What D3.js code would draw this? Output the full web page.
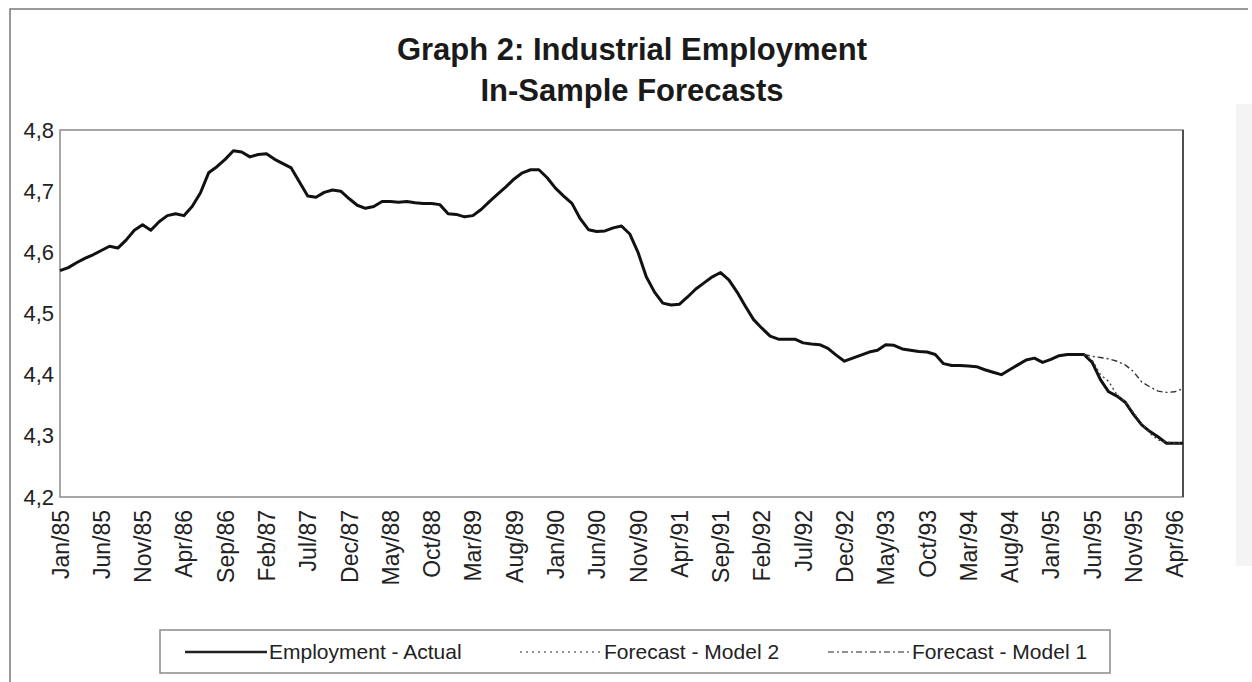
<!DOCTYPE html>
<html>
<head>
<meta charset="utf-8">
<script src="https://cdn.jsdelivr.net/npm/d3@7"></script>
<style>
  body { margin: 0; background: #fff; }
  svg { display: block; font-family: Arial, "Liberation Sans", sans-serif; }
</style>
</head>
<body>
<div id="chart-area"></div>
<script>
// monthly data, Jan/85 .. May/96
const monthNames = ["Jan", "Feb", "Mar", "Apr", "May", "Jun", "Jul", "Aug", "Sep", "Oct", "Nov", "Dec"];
const months = [];
for (let y = 85; y <= 96; y++) {
  monthNames.forEach((m, i) => {
    if (y === 96 && i > 4) return;
    months.push(m + "/" + y);
  });
}

const tickLabels = ["Jan/85", "Jun/85", "Nov/85", "Apr/86", "Sep/86", "Feb/87", "Jul/87",
  "Dec/87", "May/88", "Oct/88", "Mar/89", "Aug/89", "Jan/90", "Jun/90", "Nov/90", "Apr/91",
  "Sep/91", "Feb/92", "Jul/92", "Dec/92", "May/93", "Oct/93", "Mar/94", "Aug/94", "Jan/95",
  "Jun/95", "Nov/95", "Apr/96"];

const yTicks = [4.2, 4.3, 4.4, 4.5, 4.6, 4.7, 4.8];

// Employment - Actual
const actual = [
  4.570, 4.575, 4.583, 4.590, 4.596, 4.603, 4.610, 4.607, 4.620, 4.636, 4.645, 4.636, // 85
  4.650, 4.660, 4.663, 4.660, 4.675, 4.697, 4.730, 4.740, 4.752, 4.766, 4.764, 4.756, // 86
  4.760, 4.761, 4.752, 4.745, 4.738, 4.715, 4.692, 4.690, 4.698, 4.702, 4.700, 4.688, // 87
  4.677, 4.672, 4.675, 4.683, 4.683, 4.682, 4.683, 4.681, 4.680, 4.680, 4.678, 4.663, // 88
  4.662, 4.658, 4.660, 4.670, 4.683, 4.695, 4.707, 4.720, 4.730, 4.735, 4.735, 4.722, // 89
  4.705, 4.692, 4.680, 4.655, 4.637, 4.634, 4.635, 4.640, 4.643, 4.630, 4.600, 4.560, // 90
  4.535, 4.517, 4.514, 4.515, 4.527, 4.540, 4.550, 4.560, 4.567, 4.555, 4.535, 4.512, // 91
  4.490, 4.476, 4.463, 4.458, 4.458, 4.458, 4.452, 4.450, 4.449, 4.443, 4.432, 4.422, // 92
  4.427, 4.432, 4.437, 4.440, 4.449, 4.448, 4.442, 4.440, 4.438, 4.437, 4.433, 4.418, // 93
  4.415, 4.415, 4.414, 4.413, 4.408, 4.404, 4.400, 4.408, 4.416, 4.424, 4.427, 4.420, // 94
  4.425, 4.431, 4.433, 4.433, 4.433, 4.420, 4.392, 4.372, 4.365, 4.355, 4.335, 4.318, // 95
  4.307, 4.298, 4.288, 4.288, 4.288                                                    // 96
];

// forecasts, May/95 .. May/96 (index 124 on)
const forecastStart = 124;
const model2 = [4.433, 4.424, 4.400, 4.389, 4.367, 4.356, 4.338, 4.320, 4.304, 4.293, 4.290, 4.288, 4.289];
const model1 = [4.433, 4.430, 4.428, 4.426, 4.422, 4.416, 4.405, 4.388, 4.380, 4.373, 4.371, 4.372, 4.377];

const chartWidth = 1252;
const chartHeight = 682;
const margin = {top: 130, right: 69, bottom: 185, left: 60};
const width = chartWidth - margin.left - margin.right;
const height = chartHeight - margin.top - margin.bottom;

let svg = d3.select("#chart-area").append("svg")
  .attr("width", chartWidth)
  .attr("height", chartHeight);

// outer frame (scanned page look)
svg.append("rect")
  .attr("x", 1236).attr("y", 104)
  .attr("width", 16).attr("height", 462)
  .attr("fill", "#f4f4f4");
svg.append("path")
  .attr("d", "M10,682 V9 H1248")
  .attr("fill", "none")
  .attr("stroke", "#7a7a7a")
  .attr("stroke-width", 1.5);

// title
svg.append("text")
  .attr("x", 632).attr("y", 60)
  .attr("text-anchor", "middle")
  .attr("font-size", "31px")
  .attr("font-weight", "bold")
  .attr("fill", "#1a1a1a")
  .text("Graph 2: Industrial Employment");
svg.append("text")
  .attr("x", 632).attr("y", 101)
  .attr("text-anchor", "middle")
  .attr("font-size", "31px")
  .attr("font-weight", "bold")
  .attr("fill", "#1a1a1a")
  .text("In-Sample Forecasts");

let g = svg.append("g")
  .attr("transform", `translate(${margin.left}, ${margin.top})`);

const x = d3.scaleLinear()
  .domain([0, months.length - 1])
  .range([0, width]);

const y = d3.scaleLinear()
  .domain([4.2, 4.8])
  .range([height, 0]);

// plot area
g.append("rect")
  .attr("width", width)
  .attr("height", height)
  .attr("fill", "#fff")
  .attr("stroke", "#8a8a8a")
  .attr("stroke-width", 1.5);
g.append("line")
  .attr("x1", width).attr("x2", width)
  .attr("y1", 0).attr("y2", height)
  .attr("stroke", "#333")
  .attr("stroke-width", 1.5);

// axes
let yAxisCall = d3.axisLeft(y)
  .tickValues(yTicks)
  .tickSize(0)
  .tickPadding(6)
  .tickFormat(d => d3.format(".1f")(d).replace(".", ","));
let yAxis = g.append("g")
  .attr("class", "y-axis")
  .call(yAxisCall);
yAxis.select(".domain").remove();
yAxis.selectAll("text")
  .attr("font-size", "22px")
  .attr("fill", "#222");

const tickIdx = tickLabels.map(l => months.indexOf(l));
let xAxisCall = d3.axisBottom(x)
  .tickValues(tickIdx)
  .tickSize(0)
  .tickFormat(i => months[i]);
let xAxis = g.append("g")
  .attr("class", "x-axis")
  .attr("transform", `translate(0, ${height})`)
  .call(xAxisCall);
xAxis.select(".domain").remove();
xAxis.selectAll("text")
  .attr("font-size", "23px")
  .attr("fill", "#222")
  .attr("text-anchor", "end")
  .attr("transform", "rotate(-90)")
  .attr("x", -13)
  .attr("y", 0)
  .attr("dy", "0.35em");

// lines
const line = d3.line()
  .x(d => x(d.i))
  .y(d => y(d.v));

const actualData = actual.map((v, i) => ({i: i, v: v}));
const m1Data = model1.map((v, k) => ({i: forecastStart + k, v: v}));
const m2Data = model2.map((v, k) => ({i: forecastStart + k, v: v}));

g.append("path")
  .datum(m1Data)
  .attr("d", line)
  .attr("fill", "none")
  .attr("stroke", "#333")
  .attr("stroke-width", 1.4)
  .attr("stroke-dasharray", "6,3,2,3");

g.append("path")
  .datum(actualData)
  .attr("d", line)
  .attr("fill", "none")
  .attr("stroke", "#111")
  .attr("stroke-width", 3)
  .attr("stroke-linejoin", "round");

g.append("path")
  .datum(m2Data)
  .attr("d", line)
  .attr("fill", "none")
  .attr("stroke", "#444")
  .attr("stroke-width", 1.4)
  .attr("stroke-dasharray", "2,3");

// legend
const legendItems = [
  {label: "Employment - Actual", dash: null, w: 2.5, x: 185},
  {label: "Forecast - Model 2", dash: "2,4", w: 1.2, x: 520},
  {label: "Forecast - Model 1", dash: "6,3,2,3", w: 1.2, x: 828}
];

let legend = svg.append("g").attr("class", "legend");
legend.append("rect")
  .attr("x", 160).attr("y", 630)
  .attr("width", 950).attr("height", 43)
  .attr("fill", "#fff")
  .attr("stroke", "#8a8a8a")
  .attr("stroke-width", 1.5);

legendItems.forEach(d => {
  legend.append("line")
    .attr("x1", d.x).attr("x2", d.x + 82)
    .attr("y1", 652).attr("y2", 652)
    .attr("stroke", "#222")
    .attr("stroke-width", d.w)
    .attr("stroke-dasharray", d.dash);
  legend.append("text")
    .attr("x", d.x + 84).attr("y", 659)
    .attr("font-size", "21px")
    .attr("fill", "#222")
    .text(d.label);
});
</script>
</body>
</html>
